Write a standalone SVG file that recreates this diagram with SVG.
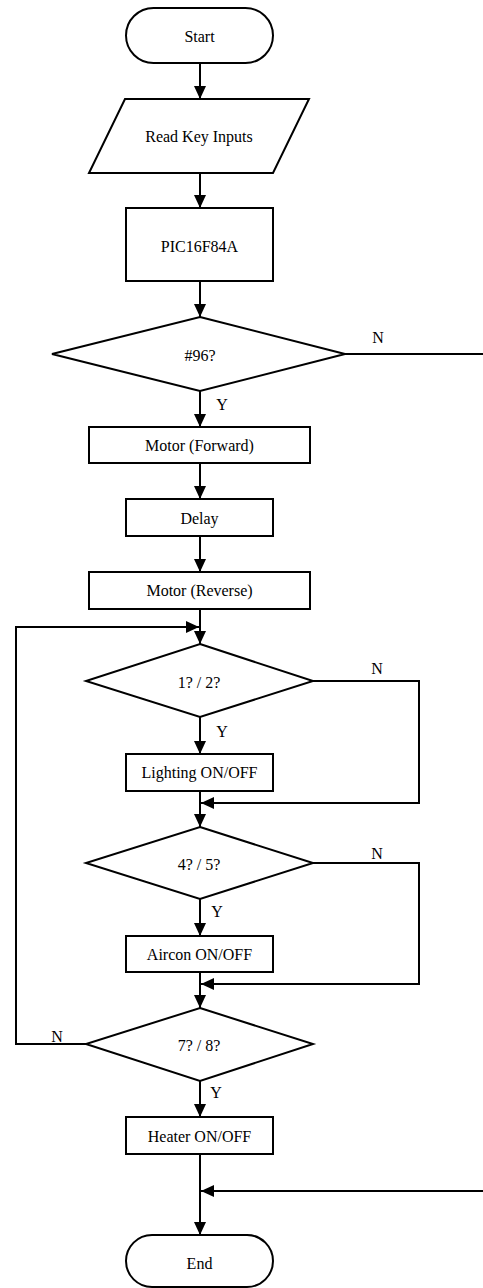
<svg xmlns="http://www.w3.org/2000/svg" width="483" height="1288" viewBox="0 0 483 1288">
<style>
.s{fill:#fff;stroke:#000;stroke-width:2}
.t{font-family:"Liberation Serif","Times New Roman",serif;font-size:16px;fill:#000;text-anchor:middle;dominant-baseline:central}
.c{fill:none;stroke:#000;stroke-width:2}
</style>
<defs>
<marker id="ah" markerUnits="userSpaceOnUse" markerWidth="14" markerHeight="12" refX="13" refY="6" orient="auto">
<path d="M0,0 L13,6 L0,12 Z" fill="#000"/>
</marker>
</defs>
<rect width="483" height="1288" fill="#fff"/>
<g id="connectors">
<path class="c" d="M200,63 V99" marker-end="url(#ah)"/>
<path class="c" d="M200,173 V208" marker-end="url(#ah)"/>
<path class="c" d="M200,281 V317" marker-end="url(#ah)"/>
<path class="c" d="M200,391 V427" marker-end="url(#ah)"/>
<path class="c" d="M200,463 V499" marker-end="url(#ah)"/>
<path class="c" d="M200,536 V572" marker-end="url(#ah)"/>
<path class="c" d="M200,609 V644" marker-end="url(#ah)"/>
<path class="c" d="M86,1044 H16 V627 H199" marker-end="url(#ah)"/>
<path class="c" d="M200,717 V754" marker-end="url(#ah)"/>
<path class="c" d="M313,681 H419 V803 H201" marker-end="url(#ah)"/>
<path class="c" d="M200,791 V827" marker-end="url(#ah)"/>
<path class="c" d="M200,899 V936" marker-end="url(#ah)"/>
<path class="c" d="M313,863 H419 V984 H201" marker-end="url(#ah)"/>
<path class="c" d="M200,972 V1008" marker-end="url(#ah)"/>
<path class="c" d="M200,1081 V1117" marker-end="url(#ah)"/>
<path class="c" d="M200,1154 V1235" marker-end="url(#ah)"/>
<path class="c" d="M345,354 H485"/>
<path class="c" d="M485,1191 H201" marker-end="url(#ah)"/>
<text class="t" x="378" y="337">N</text>
<text class="t" x="222" y="404">Y</text>
<text class="t" x="377" y="668">N</text>
<text class="t" x="222" y="731">Y</text>
<text class="t" x="377" y="853">N</text>
<text class="t" x="217" y="911">Y</text>
<text class="t" x="57" y="1036">N</text>
<text class="t" x="216" y="1092">Y</text>
</g>
<g id="start"><rect class="s" x="126" y="8" width="147" height="55" rx="27.5"/><text class="t" x="199.5" y="36">Start</text></g>
<g id="read"><polygon class="s" points="125,99 309,99 273,173 89,173"/><text class="t" x="199" y="136">Read Key Inputs</text></g>
<g id="pic"><rect class="s" x="126" y="208" width="147" height="73"/><text class="t" x="199.5" y="246">PIC16F84A</text></g>
<g id="d96"><polygon class="s" points="200,317 345,354 200,391 52,354"/><text class="t" x="200" y="355">#96?</text></g>
<g id="mf"><rect class="s" x="89" y="427" width="221" height="36"/><text class="t" x="199.5" y="445">Motor (Forward)</text></g>
<g id="delay"><rect class="s" x="126" y="499" width="147" height="37"/><text class="t" x="199.5" y="518">Delay</text></g>
<g id="mr"><rect class="s" x="89" y="572" width="221" height="37"/><text class="t" x="199.5" y="590">Motor (Reverse)</text></g>
<g id="d12"><polygon class="s" points="200,644 313,681 200,717 86,681"/><text class="t" x="199" y="682">1? / 2?</text></g>
<g id="light"><rect class="s" x="126" y="754" width="147" height="37"/><text class="t" x="199.5" y="772">Lighting ON/OFF</text></g>
<g id="d45"><polygon class="s" points="200,827 313,863 200,899 86,863"/><text class="t" x="199" y="864">4? / 5?</text></g>
<g id="aircon"><rect class="s" x="126" y="936" width="147" height="36"/><text class="t" x="199.5" y="954">Aircon ON/OFF</text></g>
<g id="d78"><polygon class="s" points="200,1008 313,1044 200,1081 86,1044"/><text class="t" x="199" y="1045">7? / 8?</text></g>
<g id="heater"><rect class="s" x="126" y="1117" width="147" height="37"/><text class="t" x="199.5" y="1136">Heater ON/OFF</text></g>
<g id="end"><rect class="s" x="126" y="1235" width="147" height="52" rx="26"/><text class="t" x="199.5" y="1263">End</text></g>
</svg>
